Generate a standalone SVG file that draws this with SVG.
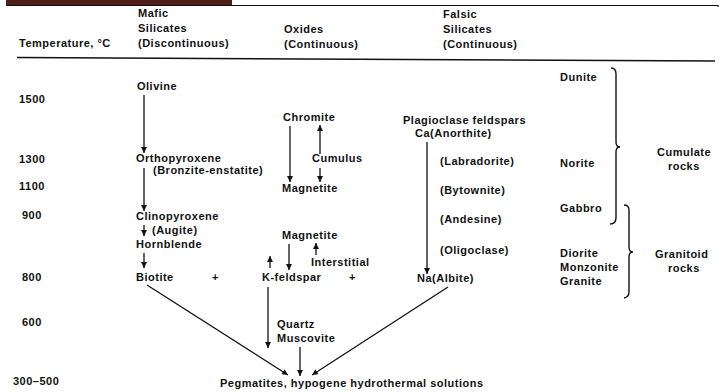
<svg xmlns="http://www.w3.org/2000/svg" width="723" height="392" viewBox="0 0 723 392">
<defs>
<style>
text{font-family:"Liberation Sans",Arial,sans-serif;font-size:11px;font-weight:bold;letter-spacing:0.5px;fill:#111}
.c{stroke:#111;stroke-width:1.3;fill:none}
.a{marker-end:url(#ah)}
.br{stroke:#111;stroke-width:1.4;fill:none}
</style>
<marker id="ah" markerUnits="userSpaceOnUse" markerWidth="7" markerHeight="6" refX="6" refY="3" orient="auto">
<path d="M0,0 L6,3 L0,6 z" fill="#111"/>
</marker>
</defs>
<rect width="723" height="392" fill="#fff"/>
<g id="topbar">
<rect x="6" y="0" width="226" height="5" fill="#4b2019"/>
<line x1="6" y1="5.5" x2="718" y2="5.5" stroke="#111" stroke-width="1.2"/>
<line x1="718" y1="5" x2="718" y2="7" stroke="#111" stroke-width="1.2"/>
</g>
<g id="header">
<text x="19" y="47">Temperature, °C</text>
<text x="138" y="17">Mafic</text>
<text x="138" y="32">Silicates</text>
<text x="138" y="47">(Discontinuous)</text>
<text x="284" y="33">Oxides</text>
<text x="284" y="48">(Continuous)</text>
<text x="443" y="18">Falsic</text>
<text x="443" y="33">Silicates</text>
<text x="443" y="48">(Continuous)</text>
<line x1="17" y1="57.5" x2="715" y2="61" stroke="#111" stroke-width="1.4"/>
</g>
<g id="temperatures">
<text x="19" y="103">1500</text>
<text x="19" y="163">1300</text>
<text x="19" y="190">1100</text>
<text x="22" y="219">900</text>
<text x="22" y="281">800</text>
<text x="22" y="326">600</text>
<text x="13" y="385">300–500</text>
</g>
<g id="mafic">
<text x="137" y="90">Olivine</text>
<text x="136" y="162">Orthopyroxene</text>
<text x="153" y="174">(Bronzite-enstatite)</text>
<text x="136" y="220">Clinopyroxene</text>
<text x="152" y="234">(Augite)</text>
<text x="136" y="248">Hornblende</text>
<text x="136" y="281">Biotite</text>
<text x="212" y="281">+</text>
</g>
<g id="oxides">
<text x="283" y="121">Chromite</text>
<text x="312" y="162">Cumulus</text>
<text x="282" y="192">Magnetite</text>
<text x="282" y="239">Magnetite</text>
<text x="311" y="266">Interstitial</text>
<text x="262" y="281">K-feldspar</text>
<text x="349" y="281">+</text>
<text x="277" y="328">Quartz</text>
<text x="277" y="342">Muscovite</text>
</g>
<g id="felsic">
<text x="403" y="124">Plagioclase feldspars</text>
<text x="415" y="137">Ca(Anorthite)</text>
<text x="440" y="165">(Labradorite)</text>
<text x="440" y="194">(Bytownite)</text>
<text x="440" y="223">(Andesine)</text>
<text x="440" y="254">(Oligoclase)</text>
<text x="417" y="282">Na(Albite)</text>
</g>
<g id="pegmatites">
<text x="220" y="387">Pegmatites, hypogene hydrothermal solutions</text>
</g>
<g id="rocks">
<text x="560" y="81">Dunite</text>
<text x="560" y="167">Norite</text>
<text x="560" y="212">Gabbro</text>
<text x="560" y="257">Diorite</text>
<text x="560" y="271">Monzonite</text>
<text x="560" y="285">Granite</text>
<text x="657" y="156">Cumulate</text>
<text x="668" y="170">rocks</text>
<text x="655" y="258">Granitoid</text>
<text x="668" y="272">rocks</text>
<path class="br" d="M611,68 Q616,68 616,74 L616,142 Q616,147 620,147 Q616,147 616,152 L616,218 Q616,224 610,224"/>
<path class="br" d="M624,205 Q629,205 629,210 L629,247 Q629,252 633,252 Q629,252 629,257 L629,292 Q629,297 624,298"/>
</g>
<g id="connectors">
<line class="c a" x1="144" y1="95" x2="144" y2="153"/>
<line class="c a" x1="144" y1="168" x2="144" y2="211"/>
<line class="c a" x1="144" y1="225" x2="144" y2="236"/>
<line class="c a" x1="144" y1="253" x2="144" y2="268"/>
<line class="c a" x1="290" y1="126" x2="290" y2="182"/>
<line class="c a" x1="320" y1="154" x2="320" y2="125"/>
<line class="c a" x1="320" y1="168" x2="320" y2="182"/>
<line class="c a" x1="289" y1="244" x2="289" y2="270"/>
<line class="c a" x1="316" y1="255" x2="316" y2="243"/>
<line class="c a" x1="270" y1="268" x2="270" y2="256"/>
<line class="c a" x1="268" y1="287" x2="268" y2="348"/>
<line class="c a" x1="300" y1="347" x2="300" y2="376"/>
<line class="c a" x1="147" y1="285" x2="288" y2="375"/>
<line class="c a" x1="448" y1="287" x2="312" y2="375"/>
<line class="c a" x1="427" y1="142" x2="427" y2="274"/>
</g>
</svg>
